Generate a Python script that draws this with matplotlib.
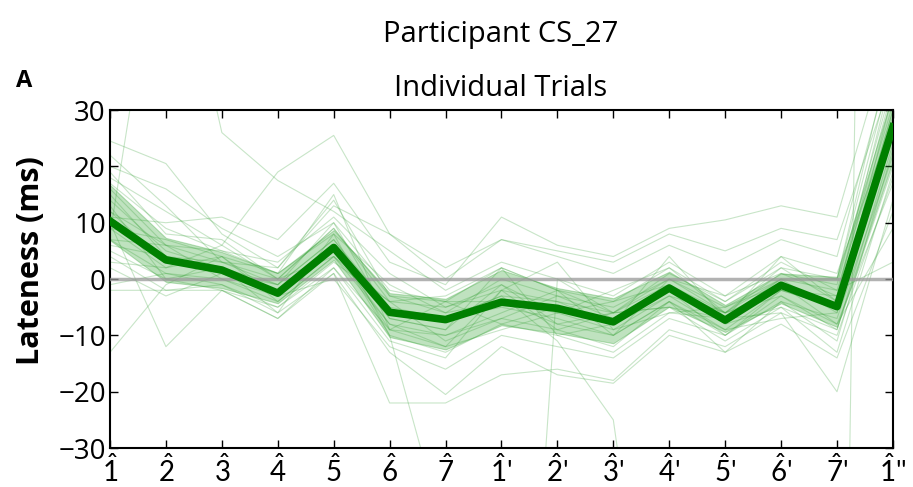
import numpy as np
import matplotlib
matplotlib.use("Agg")
import matplotlib.pyplot as plt

plt.rcParams['font.family'] = ['Open Sans', 'DejaVu Sans']
plt.rcParams['mathtext.fontset'] = 'custom'
plt.rcParams['mathtext.rm'] = 'Lato'
plt.rcParams['mathtext.it'] = 'Lato:italic'

# beat positions
tick_labels = [r'$\hat{1}$', r'$\hat{2}$', r'$\hat{3}$', r'$\hat{4}$', r'$\hat{5}$',
               r'$\hat{6}$', r'$\hat{7}$', r"$\hat{1}$'", r"$\hat{2}$'", r"$\hat{3}$'",
               r"$\hat{4}$'", r"$\hat{5}$'", r"$\hat{6}$'", r"$\hat{7}$'", r"$\hat{1}$''"]

# mean lateness and shaded band (ms)
mean_lat = [10.3, 3.4, 1.6, -2.5, 5.6, -5.9, -7.2, -4.1, -5.2, -7.6, -1.6, -7.3, -1.1, -4.9, 27]
band_hi = [16.7, 7.3, 4.8, 1.1, 8.7, -2.5, -3.5, 1.6, -1.6, -3.4, 1.3, -4.6, 1.0, 0.4, 33]
band_lo = [6.9, -0.5, -1.6, -4.3, 3.4, -10.3, -12.5, -8.2, -9.6, -11.4, -4.9, -9.4, -4.3, -8.5, 21]

# individual trials
trials = [
    [24.5, 20.5, 8, 2, 14, -3, -6, 0, -3, -5, 0, -6, 1, -3, 34],
    [20, 16, 9, 4, 10, -2, -4, 2, -2, -4, 2, -4, 2, 0, 38],
    [18, 12, 6, 0, 9, -4, -5, -1, -8, -6, 0, -5, 0, -2, 31],
    [16, 6, 3, -1, 7, -5, -7, -3, -4, -6, -5, -7, 4, -4, 29],
    [14, 5, 2, -2, 6, -9, -4, -8, -5, -8, -2, -10, -2, -5, 26],
    [12, 3, 1, -3, 5, -7, -9, -1, -6, -9, -3, -6, -3, -9, 24],
    [9, 2, 4, -4, 4, -8, -10, -6, -2, -10, -4, -10, -4, -7, 22],
    [7, 1, -1, -5, 3, -4, -11, -7, -9, -6, -5, -11, -5, -9, 20],
    [5, 0, 2, -6, 8, -10, -13, -8, -10, -13, -6, -7, -6, -10, 18],
    [-13, -1, 4, -3, 0, -12, -16, -10, -12, -14, -7, -10, -3, -8, 17],
    [10, -12, -2, -7, 2, -11, -14, -2, -9, -12, -4, -13, -4, -11, 23],
    [8, 70, 26, 17.5, 12, 5, -2, 3, 0, -3, 3, -3, 4, 1, 28],
    [3, 2, 6, 19, 25.5, 8, 2, 7, 4, 1, 6, 2, 7, 4, 40],
    [11, 10, 11, 7, 17, 3, -1, 11, 6, 4, 9, 10.5, 13, 11, 45],
    [6, 4, 3, 2, 13, 8, 0, 7, 5, 3, 8, 5, 9, 7, 36],
    [-2, -2, -1, -6, 1, -22, -22, -17, -16, -18, -9, -12, -6, -20, 14],
    [12, 6, 0, -3, 6, -10, -46, -145, 0, -6, -1, -6, -2, -5, 30],
    [15, 4, 2, -1, 7, -6, -7, -3, -11, -25, -95, -150, -180, -183, 484],
    [4, -2, -2, -7, 1, -13, -20.5, -12, -17, -18.5, -10, -13, -8, -14, 12],
    [-1, 1, 0, -4, 4, -4, -3, 2, -2, -6, 1, -4, 3, -2, 3],
    [17, 9, 5, 3, 11, 1, -5, -2, -4, -8, 4, -7, 0, -6, 33],
    [13, 0, -2, -5, 2, -9, -12, -9, -6, -4, -1, -8, -5, -13, 19],
    [9, 7, 4, 1, 8, -1, -6, -4, -8, -10, 0, -3, 1, -1, 35],
    [11, 3, 1, -1, 10, -7, -9, 2, -10, -8, -3, -9, -7, -6, 26],
    [19, 8, 7, 0, 9, -3, -4, -4, -6, -2, 2, -6, 0, 0, 42],
    [2, -3, 1, -2, 5, -8, -12, -2, 3, -9, -6, -5, -1, -8, 9],
    [7, 6, 5, 1, 15, -9, -10, -7, -3, -7, -2, -6, 2, -4, 30],
    [22, 13, 3, 0, 4, -6, -7, -5, -7, -10, -4, -9, -2, -3, 37],
]

x = np.arange(len(tick_labels))

fig = plt.figure(figsize=(9.13, 4.87), dpi=100)
ax = fig.add_axes([0.1205, 0.080, 0.8575, 0.694])

for tr in trials:
    ax.plot(x, tr, color='#3aa23a', alpha=0.28, lw=0.8, zorder=1)

ax.fill_between(x, band_lo, band_hi, color='#2ca02c', alpha=0.3, lw=0.8, zorder=2)
ax.axhline(0, color='#999999', lw=2.5, alpha=0.75, zorder=3)
ax.plot(x, mean_lat, color='#008000', lw=5.5, zorder=4)

ax.set_xlim(x[0], x[-1])
ax.set_ylim(-30, 30)
ax.set_yticks([-30, -20, -10, 0, 10, 20, 30])
ax.set_yticklabels(['\u221230', '\u221220', '\u221210', '0', '10', '20', '30'])
ax.set_xticks(x)
ax.set_xticklabels(tick_labels, family=['Lato', 'DejaVu Sans'])
ax.tick_params(direction='in', length=6, width=1, top=True, right=True)
ax.tick_params(axis='y', labelsize=20, pad=3)
ax.tick_params(axis='x', labelsize=20, pad=5)
for sp in ax.spines.values():
    sp.set_linewidth(1.5)

fig.text(0.034, 0.464, 'Lateness (ms)', rotation=90, fontsize=22,
         fontweight='bold', ha='center', va='center')
fig.text(0.548, 0.914, 'Participant CS_27', fontsize=21, fontweight='medium',
         ha='center', va='baseline')
fig.text(0.548, 0.803, 'Individual Trials', fontsize=21, fontweight='medium',
         ha='center', va='baseline')
fig.text(0.018, 0.821, 'A', fontsize=17, fontweight='bold', ha='left', va='baseline')

fig.savefig('out.png', dpi=100)
